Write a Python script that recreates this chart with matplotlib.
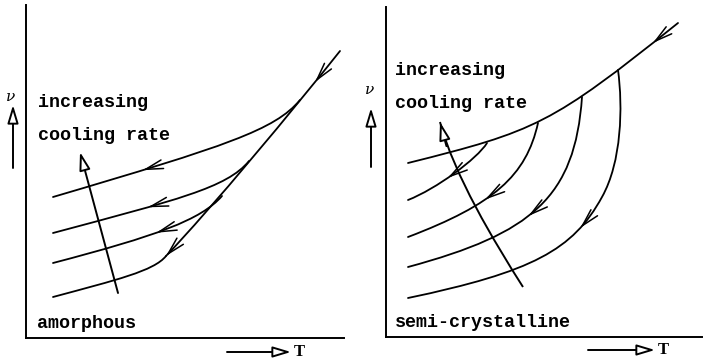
import numpy as np
import matplotlib
matplotlib.use("Agg")
import matplotlib.pyplot as plt
from matplotlib.path import Path
from matplotlib.patches import PathPatch

# ---------------- data (schematic, arbitrary T / specific-volume units) -------------
# Each curve: cubic Bezier control points (T, V), listed in the cooling direction.
amorph_main = [(314, 287), (267, 228), (185, 129), (140, 82)]
amorph_curves = [
    [(274, 238), (249, 208), (200, 192), (27, 141)],
    [(223, 177), (201, 150), (150, 138), (27, 105)],
    [(196, 142), (175, 118), (130, 102), (27, 75)],
    [(140, 82), (128, 67), (90, 58), (27, 41)],
]
amorph_chevrons = [(0, 0.16), (0, 1.0), (1, 0.8), (2, 0.69), (3, 0.57)]  # (curve idx incl. main=0, param)
amorph_rate_arrow = [(92, 45), (54, 186)]

semi_main = [(292, 314), (165, 212.4), (150, 206), (22, 174)]
semi_curves = [
    [(101, 194), (91, 178), (50, 148), (22, 137)],
    [(152, 214), (140.2, 161.1), (107.7, 132.6), (22, 100)],
    [(196, 240), (189, 139.7), (145.9, 103.5), (22, 70)],
    [(232, 267), (237, 230), (235.6, 174.8), (216, 140),
     (187, 87), (146.4, 65.1), (22, 39)],
]
semi_chevrons = [(0, 0.07), (1, 0.57), (2, 0.615), (3, 0.56), (4, 1.22)]
semi_rate_arrow = [(137, 50), (107.5, 96.4), (68.2, 161.9), (54, 215)]

left_texts = [("increasing", 12, 231), ("cooling rate", 12, 198), ("amorphous", 11, 10)]
right_texts = [("increasing", 9, 262), ("cooling rate", 9, 229), ("semi-crystalline", 9, 10)]

LW = 1.3
MONO = "Liberation Mono"


def bez_path(ctrl):
    n = (len(ctrl) - 1) // 3
    codes = [Path.MOVETO] + [Path.CURVE4] * (3 * n)
    return Path(ctrl, codes)


def bez_eval(ctrl, s):
    p = np.array(ctrl, float)
    n = (len(p) - 1) // 3
    k = min(int(s), n - 1)
    t = s - k
    p0, p1, p2, p3 = p[3 * k:3 * k + 4]
    pt = (1 - t) ** 3 * p0 + 3 * (1 - t) ** 2 * t * p1 + 3 * (1 - t) * t ** 2 * p2 + t ** 3 * p3
    d = 3 * (1 - t) ** 2 * (p1 - p0) + 6 * (1 - t) * t * (p2 - p1) + 3 * t ** 2 * (p3 - p2)
    return pt, d / np.linalg.norm(d)


def chevron(ax, ctrl, s):
    pt, d = bez_eval(ctrl, s)
    ax.annotate("", xy=pt, xytext=pt - 6 * d,
                arrowprops=dict(arrowstyle="->,head_length=1.25,head_width=0.32",
                                lw=1.1, color="black", shrinkA=0, shrinkB=0))


HOLLOW = dict(arrowstyle="-|>,head_length=1.1,head_width=0.33", lw=1.4,
              fc="white", ec="black", shrinkA=0, shrinkB=0)


def setup(ax, xmax, ymax):
    ax.set_xlim(0, xmax)
    ax.set_ylim(0, ymax)
    for s in ("top", "right"):
        ax.spines[s].set_visible(False)
    for s in ("left", "bottom"):
        ax.spines[s].set_linewidth(1.4)
    ax.set_xticks([])
    ax.set_yticks([])
    ax.patch.set_alpha(0)


fig = plt.figure(figsize=(7.03, 3.59), dpi=100)
axL = fig.add_axes([26 / 703, 21 / 359, 318 / 703, 333 / 359])
axR = fig.add_axes([386 / 703, 22 / 359, 316 / 703, 330 / 359])
setup(axL, 318, 333)
setup(axR, 316, 330)

# ---------------- left: amorphous ----------------
allL = [amorph_main] + amorph_curves
for c in allL:
    axL.add_patch(PathPatch(bez_path(c), fc="none", ec="black", lw=LW, capstyle="round"))
for ci, s in amorph_chevrons:
    chevron(axL, allL[ci], s)
axL.annotate("", xy=amorph_rate_arrow[1], xytext=amorph_rate_arrow[0], arrowprops=HOLLOW)

# ---------------- right: semi-crystalline ----------------
allR = [semi_main] + semi_curves
for c in allR:
    axR.add_patch(PathPatch(bez_path(c), fc="none", ec="black", lw=LW, capstyle="round"))
for ci, s in semi_chevrons:
    chevron(axR, allR[ci], s)
axR.add_patch(PathPatch(bez_path(semi_rate_arrow), fc="none", ec="black", lw=1.4))
tip, dtip = bez_eval(semi_rate_arrow, 1.0)
axR.annotate("", xy=tip, xytext=tip - 25 * dtip, arrowprops=HOLLOW, zorder=5)

# ---------------- texts and axis arrows ----------------
for ax, texts, nu_x, nu_y, arr_x, arr_y0, arr_y1, tx0, tx1, ty in (
        (axL, left_texts, -15, 241, -13, 170, 233, 201, 265, -14),
        (axR, right_texts, -16, 247, -15, 170, 229, 202, 269, -13)):
    for s, x, y in texts:
        ax.text(x, y, s, fontfamily=MONO, fontweight="bold", fontsize=13.2,
                ha="left", va="baseline")
    ax.text(nu_x, nu_y, "\u03bd", fontfamily="DejaVu Serif", fontstyle="italic",
            fontsize=11, ha="center", va="center", clip_on=False)
    ax.annotate("", xy=(arr_x, arr_y1), xytext=(arr_x, arr_y0), arrowprops=HOLLOW,
                annotation_clip=False)
    ax.annotate("", xy=(tx1, ty), xytext=(tx0, ty), arrowprops=HOLLOW,
                annotation_clip=False)
    ax.text(tx1 + 3, ty, "T", fontfamily="Liberation Serif", fontweight="bold",
            fontsize=12, ha="left", va="center", clip_on=False)

fig.savefig("out.png", dpi=100)
